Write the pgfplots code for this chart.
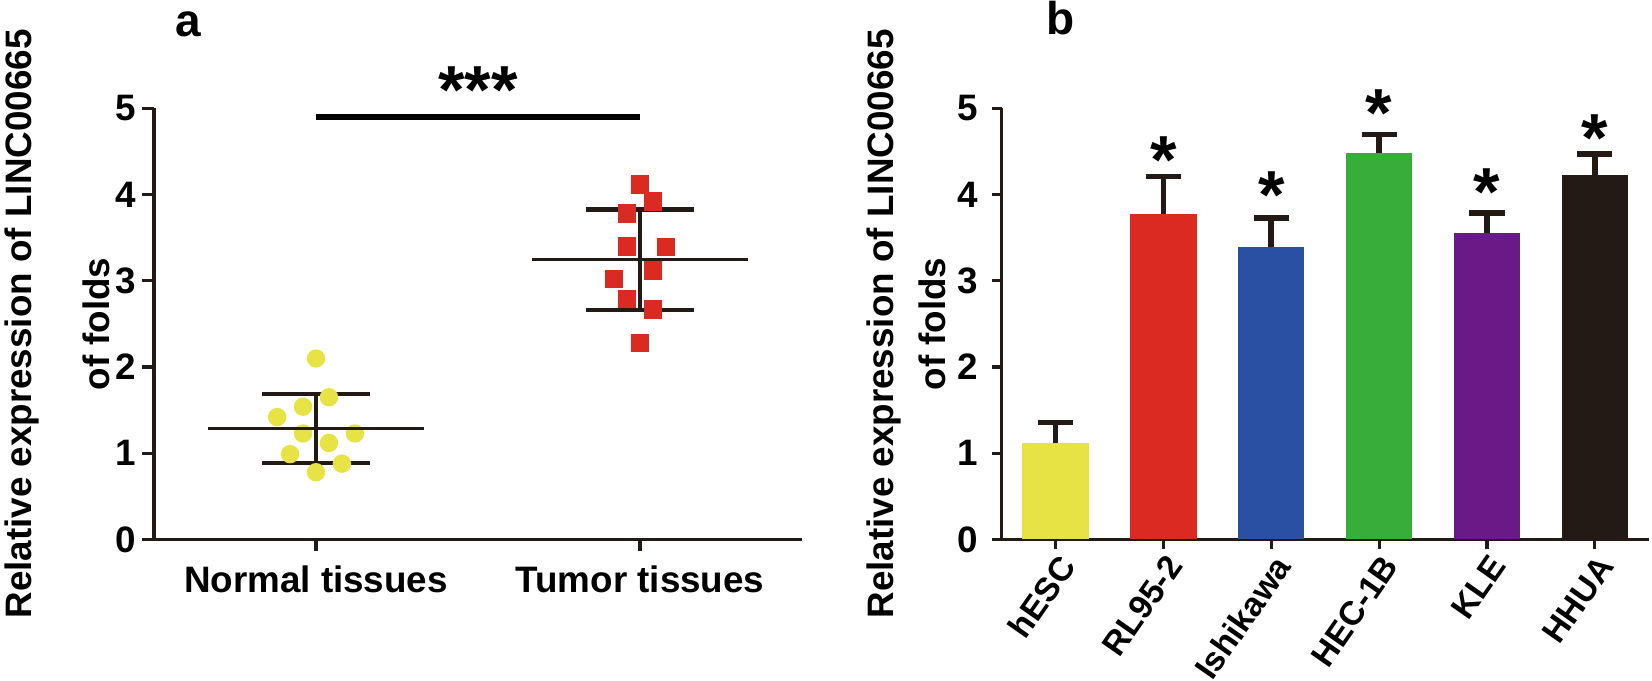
\documentclass[border=0pt]{standalone}
\usepackage{fontspec}
\setmainfont{Liberation Sans}
\usepackage{pgfplots}
\pgfplotsset{compat=1.18}

\definecolor{ax}{RGB}{35,25,21}
\definecolor{cyel}{RGB}{232,227,69}
\definecolor{cred}{RGB}{219,42,34}
\definecolor{cblue}{RGB}{42,80,163}
\definecolor{cgreen}{RGB}{56,174,58}
\definecolor{cpurple}{RGB}{106,26,135}
\definecolor{cblack}{RGB}{35,25,21}

\newcommand{\lbl}{\fontsize{9.2}{11}\selectfont\bfseries}

\pgfplotsset{
  panel/.style={
    scale only axis, height=107.75pt,
    axis lines*=left, xtick pos=left, ytick pos=left,
    tick align=outside, major tick length=3pt,
    axis line style={ax, line width=0.8pt},
    every tick/.style={ax, line width=0.8pt},
    ymin=0, ymax=5, ytick={0,1,2,3,4,5},
    clip=false,
    tick label style={font=\lbl, text=black},
    /pgf/number format/assume math mode=true,
    label style={font=\lbl},
    ylabel style={align=center, at={(axis description cs:0,0.5)}, anchor=south, inner sep=0pt},
  },
  star/.style={only marks, mark=none, nodes near coords={#1},
    every node near coord/.style={anchor=center, yshift=-3.6pt, inner sep=0pt,
      font=\fontsize{17}{17}\selectfont\bfseries, text=black}},
  sdbar/.style={ybar, bar width=0.615, draw=none,
    error bars/y dir=plus, error bars/y explicit, error bars/error mark=|,
    error bars/error bar style={line width=1.4pt, ax},
    error bars/error mark options={line width=1.4pt, mark size=4.4pt, ax}},
}

\begin{document}
\begin{tikzpicture}
\useasboundingbox (0,0) rectangle (413pt,-170.25pt);

% panel a
\begin{axis}[panel, at={(38.5pt,-134.875pt)}, anchor=south west, width=162pt,
  xmin=-0.5, xmax=1.5, xtick={0,1},
  xticklabels={Normal tissues, Tumor tissues},
  yticklabel style={xshift=2pt},
  ylabel={Relative expression of LINC00665\\[8.5pt]of folds},
  ylabel style={yshift=10.75pt}]
\addplot[only marks, mark=*, mark size=2.1pt, mark options={fill=cyel, draw=cyel}]
  coordinates {(0,2.10) (0.04,1.65) (-0.04,1.54) (-0.12,1.42) (-0.04,1.23)
    (0.12,1.23) (0.04,1.12) (-0.08,0.99) (0.08,0.88) (0,0.78)};
\addplot[only marks, mark=square*, mark size=2.1pt, mark options={fill=cred, draw=cred}]
  coordinates {(1,4.12) (1.04,3.92) (0.96,3.78) (0.96,3.40) (1.08,3.39)
    (1.04,3.12) (0.92,3.02) (0.96,2.79) (1.04,2.67) (1,2.28)};
\addplot[only marks, mark=-, mark size=27pt, mark options={line width=0.75pt, ax},
  error bars/.cd, y dir=both, y explicit, error mark=|,
  error bar style={line width=1.2pt, ax},
  error mark options={line width=1.1pt, mark size=13.5pt, ax}]
  coordinates {(0,1.29) +- (0,0.40) (1,3.245) +- (0,0.585)};
\addplot[line width=1.6pt, black] coordinates {(0,4.90) (1,4.90)};
\addplot[star={***}] coordinates {(0.5,5.38)};
\end{axis}

% panel b
\begin{axis}[panel, at={(250.4pt,-134.875pt)}, anchor=south west, width=161.8pt,
  xmin=-0.5, xmax=5.5, xtick={0,1,2,3,4,5}, major tick length=2.5pt,
  xticklabels={hESC, RL95-2, Ishikawa, HEC-1B, KLE, HHUA},
  x tick label style={rotate=55, anchor=north east, xshift=3pt, yshift=2.7pt,
    font=\fontsize{8.4}{10}\selectfont\bfseries},
  ylabel={Relative expression of LINC00665\\[2pt]of folds},
  ylabel style={yshift=13.7pt}]
\addplot[fill=cyel, sdbar] coordinates {(0,1.116) +- (0,0.24)};
\addplot[fill=cred, sdbar] coordinates {(1,3.78) +- (0,0.43)};
\addplot[fill=cblue, sdbar] coordinates {(2,3.39) +- (0,0.34)};
\addplot[fill=cgreen, sdbar] coordinates {(3,4.48) +- (0,0.22)};
\addplot[fill=cpurple, sdbar] coordinates {(4,3.56) +- (0,0.23)};
\addplot[fill=cblack, sdbar] coordinates {(5,4.23) +- (0,0.24)};
\addplot[star={*}] coordinates {(1,4.57) (2,4.16) (3,5.11) (4,4.20) (5,4.82)};
\end{axis}

\node[font=\fontsize{11.5}{12}\selectfont\bfseries] at (47pt,-6pt) {a};
\node[font=\fontsize{11.5}{12}\selectfont\bfseries] at (265.25pt,-4.5pt) {b};
\end{tikzpicture}
\end{document}
